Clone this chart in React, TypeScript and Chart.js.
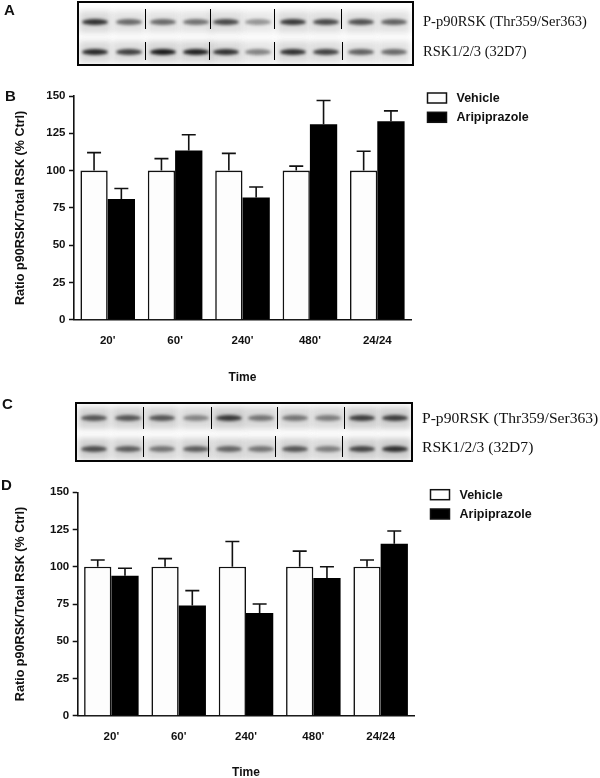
import React, { useEffect, useRef } from "react";
import { Chart, registerables } from "chart.js";

Chart.register(...registerables);

const categories = ["20'", "60'", "240'", "480'", "24/24"];
const seriesNames = ["Vehicle", "Aripiprazole"];

const vehicleB = [100, 100, 100, 100, 100];
const vehicleBTop = [112, 108, 111.5, 103, 113];
const aripB = [81, 113.5, 82, 131, 133];
const aripBTop = [88, 124, 89, 147, 140];

const vehicleD = [100, 100, 100, 100, 100];
const vehicleDTop = [104.5, 105.5, 117, 110.5, 104.5];
const aripD = [94, 74, 69, 92.5, 115.5];
const aripDTop = [99, 84, 75, 100, 124];

const yTicks = [0, 25, 50, 75, 100, 125, 150];
const yTitle = "Ratio p90RSK/Total RSK (% Ctrl)";
const xTitle = "Time";

const blotAP = [0.85, 0.5, 0.5, 0.45, 0.7, 0.25, 0.8, 0.7, 0.65, 0.55];
const blotAT = [0.9, 0.75, 1, 0.95, 0.85, 0.35, 0.85, 0.75, 0.55, 0.5];
const blotCP = [0.6, 0.6, 0.6, 0.3, 0.8, 0.4, 0.4, 0.35, 0.75, 0.75];
const blotCT = [0.65, 0.55, 0.4, 0.55, 0.5, 0.4, 0.6, 0.35, 0.7, 0.85];

const INK = "#111";
const SANS = "'Liberation Sans', Arial, sans-serif";
const SERIF = "'Liberation Serif', 'Times New Roman', serif";

const errorPlugin = {
  id: "errorCaps",
  beforeDatasetsDraw(chart: any) {
    const { ctx } = chart;
    const y = chart.scales.y;
    ctx.save();
    ctx.strokeStyle = INK;
    ctx.lineWidth = 1.6;
    chart.data.datasets.forEach((ds: any, i: number) => {
      chart.getDatasetMeta(i).data.forEach((bar: any, j: number) => {
        const top = y.getPixelForValue(ds.errTop[j]);
        const base = y.getPixelForValue(ds.data[j]);
        ctx.beginPath();
        ctx.moveTo(bar.x, base);
        ctx.lineTo(bar.x, top);
        ctx.moveTo(bar.x - 7, top);
        ctx.lineTo(bar.x + 7, top);
        ctx.stroke();
      });
    });
    ctx.restore();
  },
};

const sideLegend = {
  id: "sideLegend",
  afterDraw(chart: any, _a: any, o: any) {
    const { ctx } = chart;
    ctx.save();
    ctx.font = `bold 12.5px ${SANS}`;
    ctx.textBaseline = "middle";
    chart.data.datasets.forEach((ds: any, i: number) => {
      const y = o.y + i * 19.3;
      ctx.fillStyle = ds.backgroundColor;
      ctx.strokeStyle = INK;
      ctx.lineWidth = 1.5;
      ctx.fillRect(o.x, y - 5, 19, 10);
      ctx.strokeRect(o.x, y - 5, 19, 10);
      ctx.fillStyle = INK;
      ctx.fillText(ds.label, o.x + 29, y + 0.5);
    });
    ctx.restore();
  },
};

function BarPanel(props: any) {
  const ref = useRef<HTMLCanvasElement>(null);
  const { top, height, plotTop, plotBottom, plotLeft, plotRight, vehicle, vehicleTop, arip, aripTop, legendX, legendY, tickPad, titleX } = props;
  useEffect(() => {
    const chart = new Chart(ref.current as any, {
      type: "bar",
      data: {
        labels: categories,
        datasets: [
          { label: seriesNames[0], data: vehicle, errTop: vehicleTop, backgroundColor: "#fdfdfd", borderColor: INK, borderWidth: 1.6, borderSkipped: "bottom", categoryPercentage: 0.81, barPercentage: 1 } as any,
          { label: seriesNames[1], data: arip, errTop: aripTop, backgroundColor: "#000", borderWidth: 0, categoryPercentage: 0.81, barPercentage: 1 } as any,
        ],
      },
      plugins: [errorPlugin, sideLegend],
      options: {
        animation: false,
        responsive: false,
        devicePixelRatio: 1,
        layout: { padding: { left: 0, top: plotTop - top, right: 600 - plotRight, bottom: 0 } },
        plugins: {
          legend: { display: false },
          tooltip: { enabled: false },
          sideLegend: { x: legendX, y: legendY - top },
        } as any,
        scales: {
          x: {
            grid: { display: false },
            border: { color: INK, width: 1.6 },
            ticks: { color: INK, font: { family: SANS, size: 11.5, weight: "bold" }, padding: 6, maxRotation: 0 },
            title: { display: true, text: xTitle, color: INK, font: { family: SANS, size: 12, weight: "bold" }, padding: { top: 0, bottom: 5 } },
            afterFit: (s: any) => { s.height = top + height - plotBottom; },
          },
          y: {
            min: 0,
            max: 150,
            afterBuildTicks: (s: any) => { s.ticks = yTicks.map((value) => ({ value })); },
            grid: { drawOnChartArea: false, drawTicks: true, tickLength: 5, tickColor: INK, tickWidth: 1.5 },
            border: { color: INK, width: 1.6 },
            ticks: { color: INK, font: { family: SANS, size: 11.5, weight: "bold" }, padding: tickPad },
            title: { display: true, text: yTitle, color: INK, font: { family: SANS, size: 12.6, weight: "bold" }, padding: { top: titleX, bottom: 0 } },
            afterFit: (s: any) => { s.width = plotLeft; },
          },
        },
      },
    } as any);
    return () => chart.destroy();
  }, []);
  return (
    <canvas
      ref={ref}
      width={600}
      height={height}
      style={{ position: "absolute", left: 0, top, width: 600, height, filter: "blur(0.35px)" }}
    />
  );
}

const divStyle = (left: number, top: number, extra: any) => ({ position: "absolute", left, top, ...extra });

function Blot(props: any) {
  const { left, top, width, height, lanes, rows, seps, rowGray } = props;
  return (
    <div style={{ position: "absolute", left, top, width, height, border: "2px solid #050505", boxSizing: "border-box", overflow: "hidden", background: "#fff" }}>
      {rows.map((row: any, r: number) =>
        row.values.map((v: number, i: number) => (
          <React.Fragment key={`${r}-${i}`}>
            <div style={divStyle(lanes[i] - left - 16, row.y - top - 11, { width: 32, height: 22, background: `rgba(120,120,120,${rowGray + v * 0.18})`, filter: "blur(3px)" }) as any} />
            <div style={divStyle(lanes[i] - left - 13, row.y - top - 3, { width: 26, height: 6, borderRadius: "50%", background: `rgba(25,25,25,${0.2 + v * 0.8})`, filter: "blur(1.6px)" }) as any} />
          </React.Fragment>
        ))
      )}
      {seps.map((s: any, i: number) => (
        <div key={i} style={divStyle(s.x - left - 2, s.y0 - top - 2, { width: 1.3, height: s.y1 - s.y0, background: "#000" }) as any} />
      ))}
    </div>
  );
}

const sepsOf = (xs: number[], y0: number, y1: number) => xs.map((x) => ({ x, y0, y1 }));

function Text(props: any) {
  const { x, y, size, font, bold, children } = props;
  return (
    <div style={{ position: "absolute", left: x, top: y - size * 0.6, lineHeight: `${size * 1.2}px`, fontSize: size, fontFamily: font, fontWeight: bold ? 700 : 400, color: INK, whiteSpace: "nowrap", filter: "blur(0.3px)" }}>
      {children}
    </div>
  );
}

export default function App() {
  return (
    <div style={{ position: "absolute", left: 0, top: 0, width: 600, height: 778, overflow: "hidden", background: "#fff" }}>
      <Text x={4} y={10} size={15} font={SANS} bold>A</Text>
      <Text x={5} y={95.5} size={15} font={SANS} bold>B</Text>
      <Text x={2} y={404} size={15} font={SANS} bold>C</Text>
      <Text x={1} y={485} size={15} font={SANS} bold>D</Text>

      <Blot
        left={76.5}
        top={1}
        width={337}
        height={65}
        lanes={[93, 126.5, 161, 193.5, 224, 256, 291, 324, 358.5, 392]}
        rows={[{ y: 20, values: blotAP }, { y: 50, values: blotAT }]}
        rowGray={0.12}
        seps={[...sepsOf([145, 210, 274, 341], 9, 29), ...sepsOf([144.5, 209, 274, 342], 42, 60)]}
      />
      <Text x={423} y={22} size={14.5} font={SERIF}>P-p90RSK (Thr359/Ser363)</Text>
      <Text x={423} y={52} size={14.5} font={SERIF}>RSK1/2/3 (32D7)</Text>

      <BarPanel top={80} height={310} plotTop={96} plotBottom={319.7} plotLeft={74} plotRight={411} vehicle={vehicleB} vehicleTop={vehicleBTop} arip={aripB} aripTop={aripBTop} legendX={427.5} legendY={98} tickPad={3.5} titleX={13} />

      <Blot
        left={75}
        top={401.5}
        width={338}
        height={60}
        lanes={[92, 126, 160, 194, 227, 259, 293, 326, 360, 393]}
        rows={[{ y: 416, values: blotCP }, { y: 447, values: blotCT }]}
        rowGray={0.22}
        seps={[...sepsOf([142.6, 211, 277, 344], 407, 429), ...sepsOf([143, 208, 274.5, 342], 436, 457)]}
      />
      <Text x={422} y={418} size={15.6} font={SERIF}>P-p90RSK (Thr359/Ser363)</Text>
      <Text x={422} y={447} size={15.6} font={SERIF}>RSK1/2/3 (32D7)</Text>

      <BarPanel top={470} height={315} plotTop={492.3} plotBottom={715.7} plotLeft={77.7} plotRight={414.3} vehicle={vehicleD} vehicleTop={vehicleDTop} arip={aripD} aripTop={aripDTop} legendX={430.5} legendY={494.7} tickPad={3.5} titleX={13} />
    </div>
  );
}
